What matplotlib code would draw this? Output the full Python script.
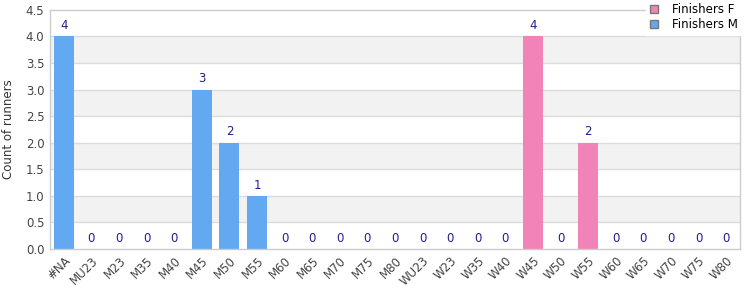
import matplotlib
matplotlib.use("Agg")
import matplotlib.pyplot as plt
import numpy as np
from matplotlib.patches import Patch

# 类别与数值
categories = ["#NA", "MU23", "M23", "M35", "M40", "M45", "M50", "M55", "M60",
              "M65", "M70", "M75", "M80", "WU23", "W23", "W35", "W40", "W45",
              "W50", "W55", "W60", "W65", "W70", "W75", "W80"]
finishers_m = [4, 0, 0, 0, 0, 3, 2, 1, 0, 0, 0, 0, 0, None, None, None, None,
               None, None, None, None, None, None, None, None]
finishers_f = [None, None, None, None, None, None, None, None, None, None, None,
               None, None, 0, 0, 0, 0, 4, 0, 2, 0, 0, 0, 0, 0]
y_ticks = [0.0, 0.5, 1.0, 1.5, 2.0, 2.5, 3.0, 3.5, 4.0, 4.5]

color_m = "#62a9f2"
color_f = "#f283b9"
label_color = "#1f1f8f"
grid_color = "#dcdcdc"

plt.rcParams["font.family"] = ["DejaVu Sans"]

fig = plt.figure(figsize=(7.5, 3), dpi=100)
ax = fig.add_axes([0.0667, 0.17, 0.92, 0.797])

x = np.arange(len(categories))
width = 0.72

# 交替背景带
for i in range(len(y_ticks) - 1):
    if i % 2 == 1:
        ax.axhspan(y_ticks[i], y_ticks[i + 1], color="#f2f2f2", zorder=0, lw=0)
for t in y_ticks[1:-1]:
    ax.axhline(t, color=grid_color, lw=1, zorder=1)

for series, color in ((finishers_m, color_m), (finishers_f, color_f)):
    for xi, v in zip(x, series):
        if v is None:
            continue
        ax.bar(xi, v, width, color=color, zorder=2)
        ax.text(xi, v + 0.08, str(v), ha="center", va="bottom",
                fontsize=8.5, color=label_color, zorder=3)

ax.set_xlim(-0.5, len(categories) - 0.5)
ax.set_ylim(0, 4.5)
ax.set_yticks(y_ticks)
ax.set_yticklabels([f"{t:.1f}" for t in y_ticks])
ax.set_xticks(x)
ax.set_xticklabels(categories, rotation=45, ha="right", rotation_mode="anchor")
ax.tick_params(axis="both", length=0, labelsize=8.5, colors="#444444", pad=4)
ax.set_ylabel("Count of runners", fontsize=8.5, color="#333333", labelpad=8)

for s in ax.spines.values():
    s.set_color("#cccccc")
    s.set_linewidth(1)

handles = [Patch(facecolor=color_f, edgecolor="#777777", label="Finishers F"),
           Patch(facecolor=color_m, edgecolor="#777777", label="Finishers M")]
fig.legend(handles=handles, loc="upper right", bbox_to_anchor=(0.997, 1.022),
           fontsize=8.5, frameon=True, framealpha=1, edgecolor="white",
           fancybox=False, handlelength=0.7, handleheight=0.7,
           labelspacing=0.2, borderpad=0.3, handletextpad=1.2)

fig.savefig("out.png", dpi=100)
